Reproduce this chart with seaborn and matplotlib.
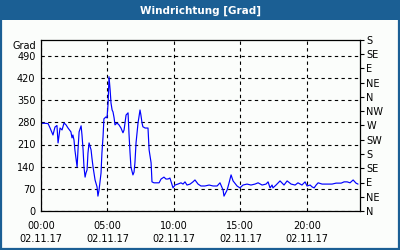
import matplotlib
matplotlib.use("Agg")
import matplotlib.pyplot as plt
import seaborn as sns
import pandas as pd
from matplotlib.patches import Rectangle
from matplotlib.ticker import MultipleLocator

# time in minutes after 00:00 on 02.11.17, wind direction in degrees
minutes = [0, 18, 32, 41, 54, 63, 72, 77, 86, 95, 104, 113, 122, 135, 140, 144, 149, 153,
           158, 163, 167, 172, 181, 185, 190, 194, 199, 203, 208, 212, 217, 226, 230, 235,
           239, 244, 253, 257, 262, 271, 275, 280, 284, 293, 298, 303, 307, 312, 316, 321,
           325, 330, 334, 343, 352, 361, 370, 375, 384, 393, 397, 402, 406, 415, 420, 424,
           429, 438, 447, 451, 456, 460, 470, 483, 488, 497, 501, 510, 524, 533, 542, 555,
           564, 573, 582, 596, 605, 618, 632, 641, 650, 659, 673, 686, 695, 709, 722, 740,
           759, 777, 795, 808, 822, 826, 840, 849, 858, 867, 885, 898, 912, 930, 948, 966,
           980, 998, 1016, 1025, 1034, 1043, 1047, 1061, 1079, 1097, 1111, 1129, 1147, 1160,
           1178, 1192, 1201, 1215, 1224, 1233, 1242, 1251, 1269, 1291, 1314, 1332, 1355,
           1368, 1382, 1395, 1409, 1422, 1431]
degrees = [277, 277, 276, 262, 240, 265, 270, 215, 262, 256, 278, 272, 262, 250, 231, 240,
           224, 193, 167, 139, 193, 250, 269, 240, 193, 139, 107, 120, 130, 183, 215, 193,
           167, 139, 120, 98, 76, 47, 66, 120, 183, 234, 291, 297, 294, 341, 424, 383, 341,
           319, 313, 294, 272, 278, 272, 262, 247, 256, 303, 310, 247, 183, 139, 114, 123,
           152, 215, 278, 319, 303, 278, 266, 262, 262, 193, 152, 92, 89, 89, 89, 101, 107,
           101, 101, 104, 73, 82, 85, 89, 85, 92, 82, 85, 92, 98, 85, 79, 79, 82, 79, 79,
           89, 66, 47, 66, 89, 114, 95, 79, 73, 82, 85, 82, 85, 89, 82, 85, 92, 73, 82, 73,
           82, 95, 82, 95, 85, 82, 89, 82, 92, 79, 82, 76, 73, 82, 89, 85, 85, 85, 88, 88,
           92, 92, 89, 98, 88, 85]

title = "Windrichtung [Grad]"
unit_label = "Grad"
left_ticks = [0, 70, 140, 210, 280, 350, 420, 490]
right_ticks = [0, 45, 90, 135, 180, 225, 270, 315, 360, 405, 450, 495, 540]
right_labels = ["N", "NE", "E", "SE", "S", "SW", "W", "NW", "N", "NE", "E", "SE", "S"]
x_ticks = [0, 300, 600, 900, 1200]
x_labels = ["00:00\n02.11.17", "05:00\n02.11.17", "10:00\n02.11.17",
            "15:00\n02.11.17", "20:00\n02.11.17"]

sns.set_theme(style="white")
plt.rcParams['font.family'] = ['DejaVu Sans']

BLUE = "#1b5f94"
BG = "#fbfdfb"

fig = plt.figure(figsize=(4, 2.5), dpi=100)
fig.patch.set_facecolor(BG)

# title bar and frame
fig.patches.append(Rectangle((0, 1 - 20 / 250), 1, 20 / 250, transform=fig.transFigure,
                             facecolor=BLUE, edgecolor="none", zorder=0))
fig.patches.append(Rectangle((0.5 / 400, 1 / 250), 398.5 / 400, 248 / 250, transform=fig.transFigure,
                             facecolor="none", edgecolor=BLUE, linewidth=1.6, zorder=0))
fig.text(0.5, 1 - 10.5 / 250, title, color="white", ha="center", va="center",
         fontsize=7.5, fontweight="bold")

ax = fig.add_axes([41 / 400, 39 / 250, 319 / 400, 171 / 250])
ax.set_facecolor(BG)
df = pd.DataFrame({"t": minutes, "deg": degrees})
sns.lineplot(data=df, x="t", y="deg", ax=ax, color="#0000ff", linewidth=0.85)

ax.set_xlim(0, 1440)
ax.set_ylim(0, 540)
ax.set_xticks(x_ticks)
ax.set_xticklabels(x_labels, fontsize=7, linespacing=1.45)
ax.xaxis.set_minor_locator(MultipleLocator(60))
ax.set_yticks(left_ticks)
ax.set_yticklabels([str(v) for v in left_ticks], fontsize=7)
ax.tick_params(axis="y", which="both", length=0, pad=4, colors="black")
ax.tick_params(axis="x", which="major", direction="in", length=3, pad=7, colors="black", width=0.8)
ax.tick_params(axis="x", which="minor", direction="in", length=3, width=0.8, color="black")
ax.set_xlabel("")
ax.set_ylabel("")
ax.grid(True, which="major", color="black", linestyle=(0, (3, 3)), linewidth=0.8)
for s in ax.spines.values():
    s.set_color("black")
    s.set_linewidth(0.9)

ax2 = ax.twinx()
ax2.set_ylim(0, 540)
ax2.set_yticks(right_ticks)
ax2.set_yticklabels(right_labels, fontsize=7)
ax2.tick_params(axis="y", length=3, width=0.8, pad=1.5, colors="black", direction="out")
for s in ax2.spines.values():
    s.set_visible(False)
ax2.grid(False)

fig.text(36 / 400, 1 - 46 / 250, unit_label, ha="right", va="center", fontsize=7, color="black")

fig.savefig("out.png", dpi=100, facecolor=fig.get_facecolor())
